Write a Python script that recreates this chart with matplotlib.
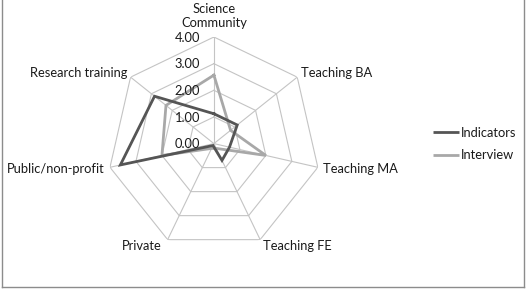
import numpy as np
import matplotlib
matplotlib.use("Agg")
import matplotlib.pyplot as plt
from matplotlib.lines import Line2D

plt.rcParams['font.family'] = ['Lato', 'DejaVu Sans']

categories = ['Science\nCommunity', 'Teaching BA', 'Teaching MA', 'Teaching FE',
              'Private', 'Public/non-profit', 'Research training']
indicators = [1.12, 1.12, 0.6, 0.7, 0.08, 3.6, 2.85]
interview = [2.57, 0.8, 2.0, 0.2, 0.2, 2.0, 2.3]
ring_ticks = [0.0, 1.0, 2.0, 3.0, 4.0]
series_names = ['Indicators', 'Interview']

W, H = 527, 292
fig = plt.figure(figsize=(W / 100, H / 100), dpi=100)

cx, cy, R = 213.9, 143.6, 106.6
ax = fig.add_axes([(cx - R) / W, 1 - (cy + R) / H, 2 * R / W, 2 * R / H], projection='polar')
ax.set_theta_offset(np.pi / 2)
ax.set_theta_direction(-1)
ax.set_ylim(0, max(ring_ticks))
ax.grid(False)
ax.spines['polar'].set_visible(False)
ax.set_xticks([])
ax.set_yticks([])
ax.patch.set_alpha(0)

n = len(categories)
angles = np.arange(n) * 2 * np.pi / n
closed = np.concatenate([angles, angles[:1]])

grid_c = '#c4c4c4'
for r in ring_ticks[1:]:
    ax.plot(closed, [r] * (n + 1), color=grid_c, lw=0.8, zorder=1)
for a in angles:
    ax.plot([a, a], [0, max(ring_ticks)], color=grid_c, lw=0.8, zorder=1)

dark = '#555555'
light = '#a8a8a8'
ax.plot(closed, indicators + indicators[:1], color=dark, lw=2.0, zorder=3,
        solid_joinstyle='miter', label=series_names[0])
ax.plot(closed, interview + interview[:1], color=light, lw=2.0, zorder=2,
        solid_joinstyle='miter', label=series_names[1])

txt_c = '#1a1a1a'
fs = 9.3
offsets = [((0, 6), 'center', 'bottom'),
           ((2.5, 3), 'left', 'center'),
           ((3.7, -1.2), 'left', 'center'),
           ((2, -4.5), 'left', 'center'),
           ((-4, -4.5), 'right', 'center'),
           ((-3.6, -1.2), 'right', 'center'),
           ((-2.6, 3), 'right', 'center')]
for a, lab, (off, ha, va) in zip(angles, categories, offsets):
    ax.annotate(lab, xy=(a, max(ring_ticks)), xytext=off, textcoords='offset points',
                ha=ha, va=va, fontsize=fs, color=txt_c, linespacing=1.2,
                annotation_clip=False)

for r in ring_ticks:
    ax.annotate(f'{r:.2f}', xy=(0, r), xytext=(-10, -0.5), textcoords='offset points',
                ha='right', va='center', fontsize=fs, color=txt_c, annotation_clip=False)

handles = [Line2D([], [], color=dark, lw=2.0, solid_capstyle='butt'),
           Line2D([], [], color=light, lw=2.0, solid_capstyle='butt')]
fig.legend(handles, series_names, loc='center left',
           bbox_to_anchor=(432.7 / W, 1 - 144 / H), frameon=False,
           fontsize=fs, handlelength=2.0, handletextpad=0.15, borderpad=0,
           borderaxespad=0, labelspacing=0.85, labelcolor=txt_c)

border_c = '#8c8c8c'
x0, x1, yb = 1.5 / W, 523.5 / W, 1 - 286.5 / H
fig.add_artist(Line2D([x0, x0], [yb, 1.0], color=border_c, lw=1.0, transform=fig.transFigure))
fig.add_artist(Line2D([x1, x1], [yb, 1.0], color=border_c, lw=1.0, transform=fig.transFigure))
fig.add_artist(Line2D([x0, x1], [yb, yb], color=border_c, lw=1.0, transform=fig.transFigure))

fig.savefig('out.png', dpi=100, facecolor='white')
